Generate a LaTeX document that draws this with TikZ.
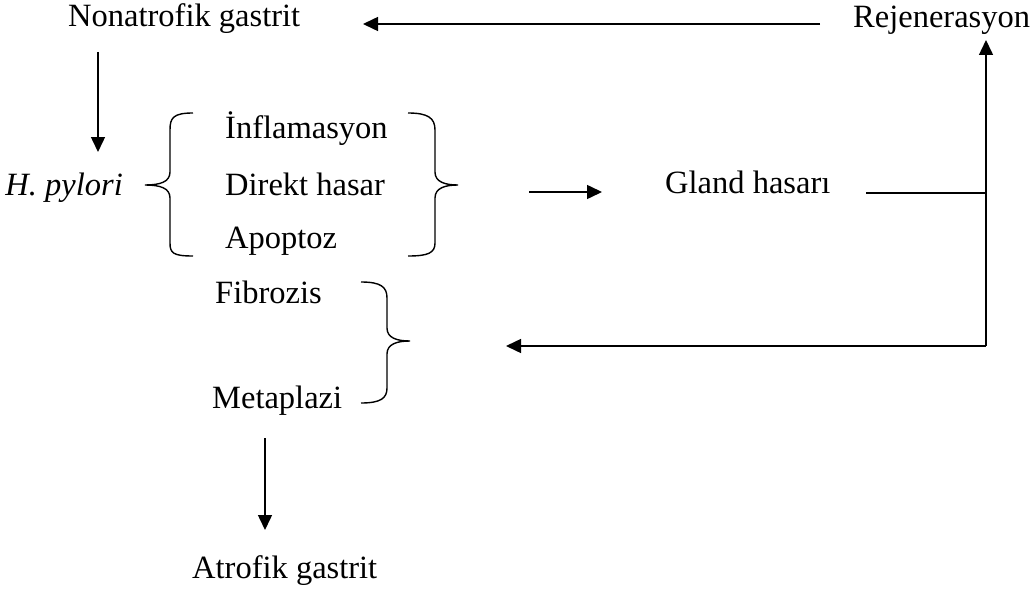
\documentclass[tikz,border=0pt]{standalone}
\usepackage{fontspec}
\setmainfont{Liberation Serif}
\usetikzlibrary{arrows.meta}
\begin{document}
\begin{tikzpicture}[x=1pt,y=-1pt,
  lbl/.style={inner sep=0pt,font=\fontsize{32.5}{38}\selectfont},
  arr/.style={line width=1.5pt,-{Triangle[length=15pt,width=14pt]}},
  ln/.style={line width=1.5pt},
  brc/.style={line width=1.4pt}]
\useasboundingbox (0,0) rectangle (1035,591);
% nodes
\node[lbl,anchor=base west] (nona) at (68,27) {Nonatrofik gastrit};
\node[lbl,anchor=base west] (rej) at (853,28) {Rejenerasyon};
\node[lbl,anchor=base east] (hp) at (123,195) {\itshape H. pylori};
\node[lbl,anchor=base west] (infl) at (225,139) {İnflamasyon};
\node[lbl,anchor=base west] (dir) at (225,195) {Direkt hasar};
\node[lbl,anchor=base west] (apo) at (225,248) {Apoptoz};
\node[lbl,anchor=base west] (gland) at (665,193) {Gland hasarı};
\node[lbl,anchor=base west] (fib) at (215,303) {Fibrozis};
\node[lbl,anchor=base west] (meta) at (212,408) {Metaplazi};
\node[lbl,anchor=base west] (atro) at (192,578) {Atrofik gastrit};
% coordinates
\coordinate (topR) at (820,24);
\coordinate (topL) at (363,24);
\coordinate (nonaD1) at (98,52);
\coordinate (nonaD2) at (98,152);
\coordinate (mid1) at (529,192);
\coordinate (mid2) at (602,192);
\coordinate (gl1) at (866,193);
\coordinate (junc) at (986,193);
\coordinate (corner) at (986,346);
\coordinate (rejB) at (986,40);
\coordinate (botL) at (506,346);
\coordinate (meta1) at (265,438);
\coordinate (meta2) at (265,530);
% connectors
\draw[arr] (topR) -- (topL);
\draw[arr] (nonaD1) -- (nonaD2);
\draw[arr] (mid1) -- (mid2);
\draw[ln] (gl1) -- (junc);
\draw[arr] (corner) -- (rejB);
\draw[arr] (corner) -- (botL);
\draw[arr] (meta1) -- (meta2);
% braces
\draw[brc] (193,113) .. controls (173,113) and (170,118) .. (170,130) -- (170,172)
  .. controls (170,182) and (160,185) .. (145,185)
  .. controls (160,185) and (170,188) .. (170,198) -- (170,243)
  .. controls (170,253) and (173,256) .. (193,256);
\draw[brc] (408,113) .. controls (428,113) and (435,118) .. (435,130) -- (435,172)
  .. controls (435,182) and (445,185) .. (458,185)
  .. controls (445,185) and (435,188) .. (435,198) -- (435,243)
  .. controls (435,253) and (428,256) .. (408,256);
\draw[brc] (361,282) .. controls (381,282) and (387,287) .. (387,298) -- (387,328)
  .. controls (387,338) and (397,341) .. (410,341)
  .. controls (397,341) and (387,344) .. (387,354) -- (387,388)
  .. controls (387,398) and (381,403) .. (361,403);
\end{tikzpicture}
\end{document}
